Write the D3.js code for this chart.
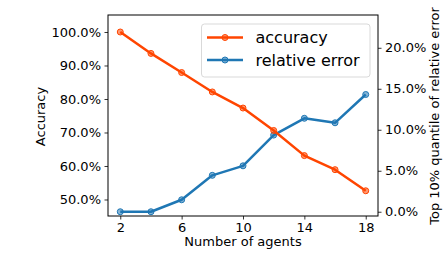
<!DOCTYPE html>
<html>
<head>
<meta charset="utf-8">
<script src="https://cdn.jsdelivr.net/npm/d3@7"></script>
<style>
  body { margin: 0; background: #fff; }
  text { font-family: "DejaVu Sans", sans-serif; fill: #000; }
</style>
</head>
<body>
<div id="chart"></div>
<script>
// data
const agents = [2, 4, 6, 8, 10, 12, 14, 16, 18];
const accuracy = [100.0, 93.6, 87.9, 82.1, 77.3, 70.6, 63.1, 58.9, 52.6];
const relError = [0.0, 0.0, 1.46, 4.44, 5.6, 9.35, 11.4, 10.85, 14.3];
const xTicks = [2, 6, 10, 14, 18];
const leftTicks = [50, 60, 70, 80, 90, 100];
const rightTicks = [0, 5, 10, 15, 20];
const seriesNames = ["accuracy", "relative error"];

const width = 444, height = 268;
const margin = { left: 108, right: 66, top: 15, bottom: 52 };
const colors = { acc: "#ff4500", err: "#1f77b4" };

const svg = d3.select("#chart").append("svg")
    .attr("width", width)
    .attr("height", height);

const x = d3.scaleLinear().domain([1.2, 18.8])
    .range([margin.left, width - margin.right]);
const yL = d3.scaleLinear().domain([45.07, 105.07])
    .range([height - margin.bottom, margin.top]);
const yR = d3.scaleLinear().domain([-0.52, 24.0])
    .range([height - margin.bottom, margin.top]);

const fmt = d => d.toFixed(1) + "%";

// axes
const axX = svg.append("g")
    .attr("transform", "translate(0," + (height - margin.bottom) + ")")
    .call(d3.axisBottom(x).tickValues(xTicks).tickSize(3.5).tickPadding(3.5));
const axL = svg.append("g")
    .attr("transform", "translate(" + margin.left + ",0)")
    .call(d3.axisLeft(yL).tickValues(leftTicks).tickFormat(fmt).tickSize(3.5).tickPadding(3.5));
const axR = svg.append("g")
    .attr("transform", "translate(" + (width - margin.right) + ",0)")
    .call(d3.axisRight(yR).tickValues(rightTicks).tickFormat(fmt).tickSize(3.5).tickPadding(3.5));

[axX, axL, axR].forEach(a => {
    a.selectAll("text").style("font-size", "13px").style("font-family", "DejaVu Sans");
    a.selectAll("line").attr("stroke", "#000").attr("stroke-width", 0.8);
    a.select(".domain").remove();
});

// frame
svg.append("rect")
    .attr("x", margin.left).attr("y", margin.top)
    .attr("width", width - margin.left - margin.right)
    .attr("height", height - margin.top - margin.bottom)
    .attr("fill", "none").attr("stroke", "#000").attr("stroke-width", 1);

// axis labels
svg.append("text")
    .attr("x", (margin.left + width - margin.right) / 2)
    .attr("y", 246)
    .attr("text-anchor", "middle")
    .style("font-size", "13px")
    .text("Number of agents");

svg.append("text")
    .attr("transform", "translate(45,116.5) rotate(-90)")
    .attr("text-anchor", "middle")
    .style("font-size", "13px")
    .text("Accuracy");

svg.append("text")
    .attr("transform", "translate(439,116) rotate(-90)")
    .attr("text-anchor", "middle")
    .style("font-size", "13px")
    .text("Top 10% quantile of relative error");

// lines
function drawSeries(vals, yScale, color) {
    const line = d3.line()
        .x((d, i) => x(agents[i]))
        .y(d => yScale(d));
    svg.append("path")
        .attr("d", line(vals))
        .attr("fill", "none")
        .attr("stroke", color)
        .attr("stroke-width", 2.5)
        .attr("stroke-linejoin", "round");
    svg.append("g").selectAll("circle")
        .data(vals)
        .enter()
        .append("circle")
        .attr("cx", (d, i) => x(agents[i]))
        .attr("cy", d => yScale(d))
        .attr("r", 3)
        .attr("fill", color)
        .attr("fill-opacity", 0.55)
        .attr("stroke", color)
        .attr("stroke-width", 1);
}

drawSeries(relError, yR, colors.err);
drawSeries(accuracy, yL, colors.acc);

// legend
const lg = svg.append("g");
lg.append("rect")
    .attr("x", 201.5).attr("y", 24)
    .attr("width", 168.5).attr("height", 53)
    .attr("rx", 3)
    .attr("fill", "#fff").attr("fill-opacity", 0.8)
    .attr("stroke", "#d9d9d9").attr("stroke-width", 1);

const legendColors = [colors.acc, colors.err];
seriesNames.forEach((name, i) => {
    const ly = 37.5 + i * 22.5;
    lg.append("line")
        .attr("x1", 207).attr("x2", 243)
        .attr("y1", ly).attr("y2", ly)
        .attr("stroke", legendColors[i]).attr("stroke-width", 2.5);
    lg.append("circle")
        .attr("cx", 225).attr("cy", ly).attr("r", 3)
        .attr("fill", legendColors[i]).attr("fill-opacity", 0.55)
        .attr("stroke", legendColors[i]);
    lg.append("text")
        .attr("x", 255.5).attr("y", ly + 5.5)
        .style("font-size", "16px")
        .text(name);
});
</script>
</body>
</html>
